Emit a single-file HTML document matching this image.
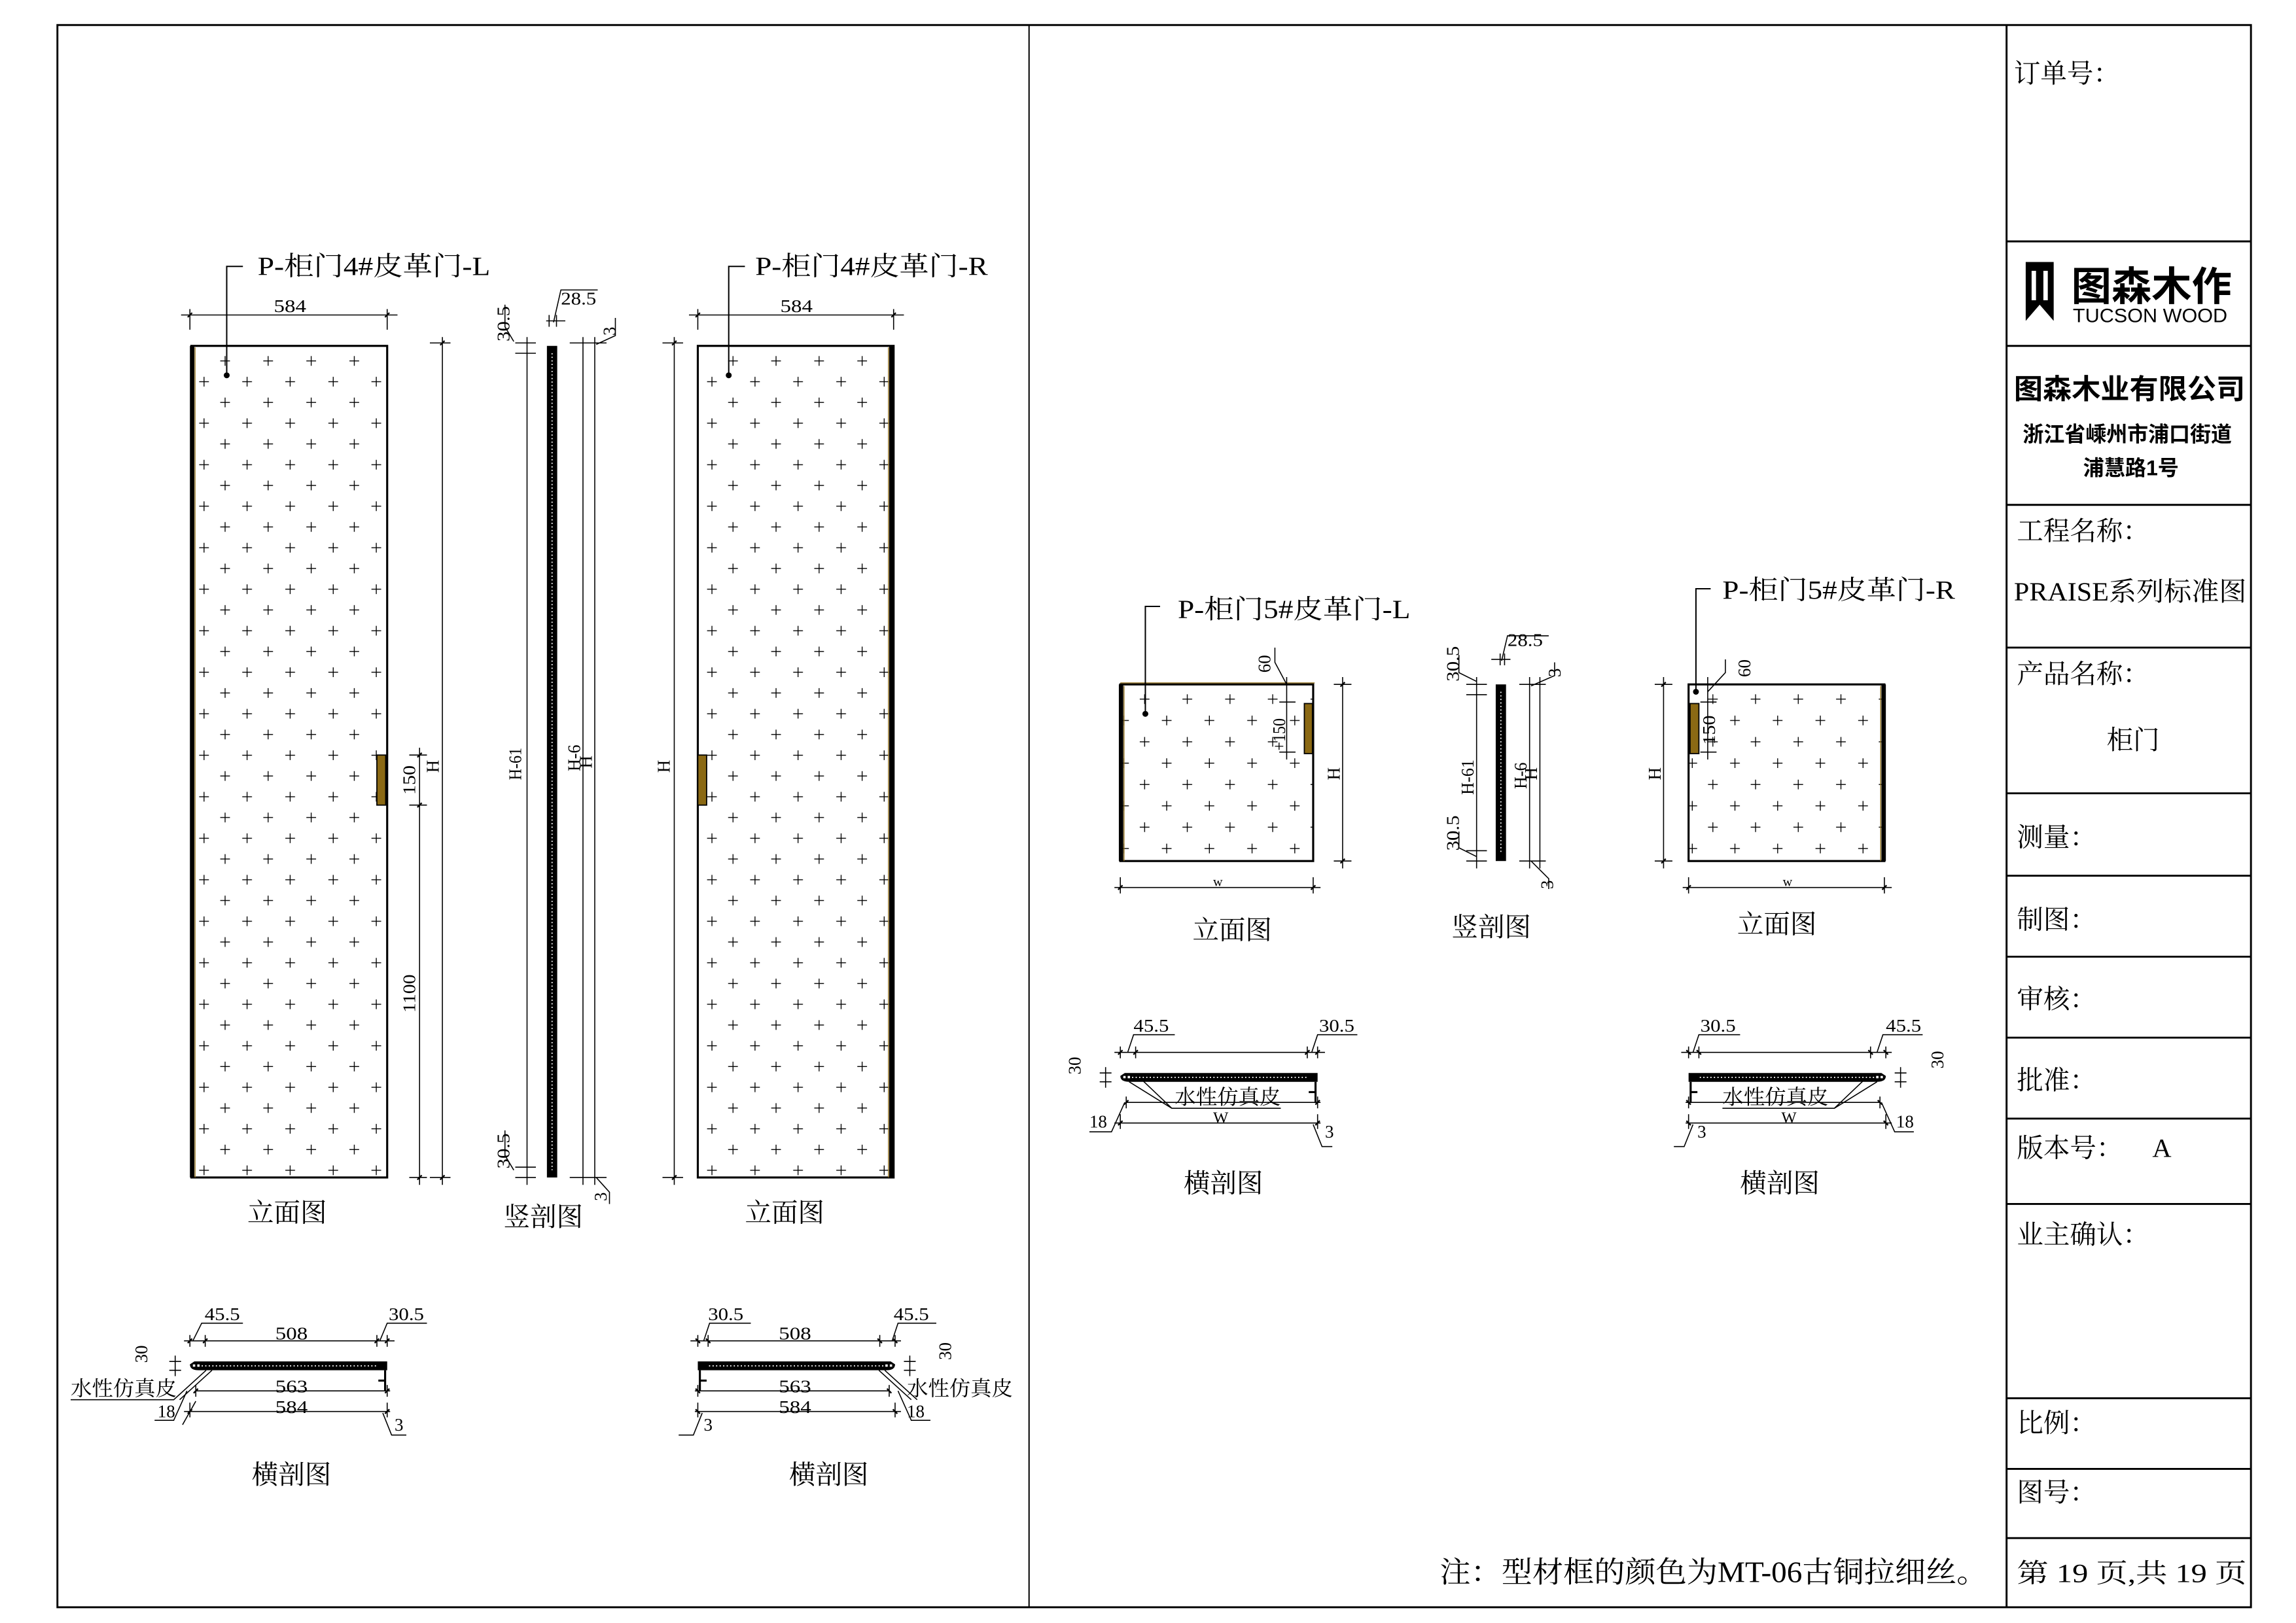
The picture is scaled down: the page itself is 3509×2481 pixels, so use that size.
<!DOCTYPE html>
<html><head><meta charset="utf-8"><style>
html,body{margin:0;padding:0;background:#fff;}
svg{display:block;}
.t{font-family:"Liberation Serif","Noto Serif CJK SC",serif;fill:#000;}
.s{font-family:"Liberation Sans","Noto Sans CJK SC",sans-serif;fill:#000;}
</style></head><body>
<svg width="3509" height="2481" viewBox="0 0 1559.6 1102.7" preserveAspectRatio="none" xmlns="http://www.w3.org/2000/svg">
<defs>
<pattern id="pA" patternUnits="userSpaceOnUse" x="131.6" y="238.2" width="29.25" height="28.2">
<path d="M18,7H24.6M21.3,3.7V10.3M3.7,21.1H10.3M7,17.8V24.4" stroke="#000" stroke-width="0.6" fill="none"/></pattern>
<pattern id="pB" patternUnits="userSpaceOnUse" x="476.6" y="238.2" width="29.25" height="28.2">
<path d="M18,7H24.6M21.3,3.7V10.3M3.7,21.1H10.3M7,17.8V24.4" stroke="#000" stroke-width="0.6" fill="none"/></pattern>
<pattern id="pC" patternUnits="userSpaceOnUse" x="756.5" y="468" width="29" height="29">
<path d="M17.7,7H24.3M21,3.7V10.3M3.7,21.5H10.3M7,18.2V24.8" stroke="#000" stroke-width="0.6" fill="none"/></pattern>
<pattern id="pD" patternUnits="userSpaceOnUse" x="1142.5" y="468" width="29" height="29">
<path d="M17.7,7H24.3M21,3.7V10.3M3.7,21.5H10.3M7,18.2V24.8" stroke="#000" stroke-width="0.6" fill="none"/></pattern>
<g id="xs">
<path d="M3,0H134V6H6Q0,6 0,2Z" fill="#000"/>
<line x1="8" y1="3" x2="128" y2="3" stroke="#fff" stroke-width="0.8" stroke-dasharray="0.8 1.6"/>
<rect x="2" y="2" width="1.6" height="1.6" fill="#fff"/><rect x="5" y="2" width="1.6" height="1.6" fill="#fff"/>
<path d="M132.6,6V20M128,13H133" stroke="#000" stroke-width="1.4" fill="none"/>
<path d="M-4,-14H139M0,-18V-10M10.4,-18V-10M127,-18V-10M134,-18V-10" stroke="#000" stroke-width="0.7" fill="none"/>
<path d="M-1.5,-12.5L1.5,-15.5M8.9,-12.5L11.9,-15.5M125.5,-12.5L128.5,-15.5M132.5,-12.5L135.5,-15.5" stroke="#000" stroke-width="1"/>
<path d="M4,20H136M4,16V24M134,16V24M-4,34H136M0,28V38M134,28V38" stroke="#000" stroke-width="0.7" fill="none"/>
<path d="M2.5,21.5L5.5,18.5M132.5,21.5L135.5,18.5M-1.5,35.5L1.5,32.5M132.5,35.5L135.5,32.5" stroke="#000" stroke-width="1"/>
<path d="M-14,0H-6M-14,6H-6M-10,-4V10" stroke="#000" stroke-width="0.7" fill="none"/>
</g>
</defs>
<rect x="0" y="0" width="1559.6" height="1102.7" fill="#fff"/>
<rect x="39" y="17" width="1490" height="1075" fill="none" stroke="#000" stroke-width="1.3"/>
<line x1="699" y1="17" x2="699" y2="1092" stroke="#000" stroke-width="0.9"/>
<line x1="1363" y1="17" x2="1363" y2="1092" stroke="#000" stroke-width="1.3"/>
<g stroke="#000" stroke-width="1.3">
<line x1="1363" y1="164" x2="1529" y2="164"/><line x1="1363" y1="235" x2="1529" y2="235"/>
<line x1="1363" y1="343" x2="1529" y2="343"/><line x1="1363" y1="440" x2="1529" y2="440"/>
<line x1="1363" y1="539" x2="1529" y2="539"/><line x1="1363" y1="595" x2="1529" y2="595"/>
<line x1="1363" y1="650" x2="1529" y2="650"/><line x1="1363" y1="705" x2="1529" y2="705"/>
<line x1="1363" y1="760" x2="1529" y2="760"/><line x1="1363" y1="818" x2="1529" y2="818"/>
<line x1="1363" y1="950" x2="1529" y2="950"/><line x1="1363" y1="998" x2="1529" y2="998"/>
<line x1="1363" y1="1045" x2="1529" y2="1045"/>
</g>
<g class="t" font-size="18">
<text x="1368" y="56">订单号：</text>
<text x="1370" y="367">工程名称：</text>
<text x="1368" y="408" textLength="158" lengthAdjust="spacingAndGlyphs">PRAISE系列标准图</text>
<text x="1370" y="464">产品名称：</text>
<text x="1431" y="509">柜门</text>
<text x="1370" y="575">测量：</text>
<text x="1370" y="631">制图：</text>
<text x="1370" y="685">审核：</text>
<text x="1370" y="740">批准：</text>
<text x="1370" y="786">版本号：</text><text x="1462" y="786">A</text>
<text x="1370" y="845">业主确认：</text>
<text x="1370" y="973">比例：</text>
<text x="1370" y="1020">图号：</text>
<text x="1370" y="1075" textLength="156" lengthAdjust="spacingAndGlyphs">第 19 页,共 19 页</text>
</g>
<path d="M1376,178H1395V218L1385.5,207L1376,218Z" fill="#000"/>
<rect x="1380" y="184" width="3" height="20" fill="#fff"/><rect x="1388" y="184" width="3" height="20" fill="#fff"/>
<text class="s" x="1407" y="204" font-size="27" font-weight="bold" textLength="109" lengthAdjust="spacingAndGlyphs">图森木作</text>
<text class="s" x="1408" y="219" font-size="13" textLength="105" lengthAdjust="spacingAndGlyphs">TUCSON WOOD</text>
<text class="s" x="1368" y="271" font-size="19" font-weight="bold" textLength="157" lengthAdjust="spacingAndGlyphs">图森木业有限公司</text>
<text class="s" x="1374" y="300" font-size="14.5" font-weight="bold" textLength="142" lengthAdjust="spacingAndGlyphs">浙江省嵊州市浦口街道</text>
<text class="s" x="1415" y="323" font-size="14.5" font-weight="bold" textLength="65" lengthAdjust="spacingAndGlyphs">浦慧路1号</text>
<text class="t" x="978" y="1075" font-size="20" textLength="372" lengthAdjust="spacingAndGlyphs">注：型材框的颜色为MT-06古铜拉细丝。</text>

<rect x="130" y="235" width="133" height="565" fill="url(#pA)"/>
<rect x="130" y="235" width="133" height="565" fill="none" stroke="#000" stroke-width="1.4"/>
<rect x="129" y="235" width="3" height="565" fill="#000"/><line x1="132.5" y1="236" x2="132.5" y2="800" stroke="#8b6914" stroke-width="0.6"/>
<rect x="256" y="513" width="6" height="34" fill="#8b6914" stroke="#000" stroke-width="0.8"/>
<circle cx="154" cy="255" r="2" fill="#000"/>
<path d="M154,255V181H165" stroke="#000" stroke-width="0.9" fill="none"/>
<text class="t" x="175" y="187" font-size="18" textLength="158" lengthAdjust="spacingAndGlyphs">P-柜门4#皮革门-L</text>
<g stroke="#000" stroke-width="0.7" fill="none">
<path d="M123,214H270M129,210V224M263,210V224"/>
<path d="M292,233H306M292,800H306M300.5,229V805"/>
<path d="M278,513H290M278,547H290M278,800H290M285,508V805"/>
</g>
<g stroke="#000" stroke-width="1"><path d="M127.5,215.5L130.5,212.5M261.5,215.5L264.5,212.5M299,234.5L302,231.5M299,801.5L302,798.5M283.5,514.5L286.5,511.5M283.5,548.5L286.5,545.5M283.5,801.5L286.5,798.5"/></g>
<text class="t" x="186" y="212" font-size="12" textLength="22" lengthAdjust="spacingAndGlyphs">584</text>
<text class="t" font-size="12" transform="translate(298,525) rotate(-90)">H</text>
<text class="t" font-size="12" transform="translate(282,540) rotate(-90)" textLength="20" lengthAdjust="spacingAndGlyphs">150</text>
<text class="t" font-size="12" transform="translate(282,688) rotate(-90)" textLength="26" lengthAdjust="spacingAndGlyphs">1100</text>
<text class="t" x="168" y="830" font-size="18">立面图</text>

<rect x="371.5" y="235" width="7" height="565" fill="#000"/>
<line x1="375" y1="240" x2="375" y2="795" stroke="#fff" stroke-width="0.8" stroke-dasharray="0.8 1.6"/>
<g stroke="#000" stroke-width="0.7" fill="none">
<path d="M350,233H364M350,240H364M350,793H364M350,800H364M358,229V805"/>
<path d="M349,232L343,222V207M349,795L343,785V768"/>
<path d="M387,233H412M387,800H412M396,229V805M404,229V805"/>
<path d="M371,218H384M378,214V222M373,214V222M376,219L381,197H406"/>
<path d="M405,234L418,228V216M405,800L414,810V818"/>
</g>
<text class="t" x="381" y="207" font-size="12" textLength="24" lengthAdjust="spacingAndGlyphs">28.5</text>
<text class="t" font-size="12" transform="translate(346,232) rotate(-90)" textLength="24" lengthAdjust="spacingAndGlyphs">30.5</text>
<text class="t" font-size="12" transform="translate(346,794) rotate(-90)" textLength="24" lengthAdjust="spacingAndGlyphs">30.5</text>
<text class="t" font-size="12" transform="translate(354,530) rotate(-90)" textLength="22" lengthAdjust="spacingAndGlyphs">H-61</text>
<text class="t" font-size="12" transform="translate(394,524) rotate(-90)" textLength="18" lengthAdjust="spacingAndGlyphs">H-6</text>
<text class="t" font-size="12" transform="translate(402,522) rotate(-90)">H</text>
<text class="t" font-size="12" transform="translate(418,228) rotate(-90)">3</text>
<text class="t" font-size="12" transform="translate(412,816) rotate(-90)">3</text>
<text class="t" x="342" y="833" font-size="18">竖剖图</text>

<rect x="474" y="235" width="133" height="565" fill="url(#pB)"/>
<rect x="474" y="235" width="133" height="565" fill="none" stroke="#000" stroke-width="1.4"/>
<rect x="604" y="235" width="3" height="565" fill="#000"/><line x1="603.5" y1="236" x2="603.5" y2="800" stroke="#8b6914" stroke-width="0.6"/>
<rect x="474" y="513" width="6" height="34" fill="#8b6914" stroke="#000" stroke-width="0.8"/>
<circle cx="495" cy="255" r="2" fill="#000"/>
<path d="M495,255V181H506" stroke="#000" stroke-width="0.9" fill="none"/>
<text class="t" x="513" y="187" font-size="18" textLength="158" lengthAdjust="spacingAndGlyphs">P-柜门4#皮革门-R</text>
<g stroke="#000" stroke-width="0.7" fill="none">
<path d="M468,214H614M474,210V224M607,210V224"/>
<path d="M450,233H464M450,800H464M458,229V805"/>
</g>
<g stroke="#000" stroke-width="1"><path d="M472.5,215.5L475.5,212.5M605.5,215.5L608.5,212.5M456.5,234.5L459.5,231.5M456.5,801.5L459.5,798.5"/></g>
<text class="t" x="530" y="212" font-size="12" textLength="22" lengthAdjust="spacingAndGlyphs">584</text>
<text class="t" font-size="12" transform="translate(455,525) rotate(-90)">H</text>
<text class="t" x="506" y="830" font-size="18">立面图</text>

<use href="#xs" transform="translate(129,925)"/>
<use href="#xs" transform="translate(608,925) scale(-1,1)"/>
<g stroke="#000" stroke-width="0.7" fill="none">
<path d="M140,931L118,951H48M144,931L122,951"/><path d="M597,931L619,951"/><path d="M601,931L623,951"/>
<path d="M127,945L118,965H105M133,952L124,968"/><path d="M260,960L266,975H276"/><path d="M610,945L619,965H632"/><path d="M477,960L471,975H461"/>
<path d="M131,911L137,899H165M258,911L263,899H290"/><path d="M478,911L482,899H510M606,911L610,899H636"/>
</g>
<text class="t" x="139" y="897" font-size="12" textLength="24" lengthAdjust="spacingAndGlyphs">45.5</text>
<text class="t" x="264" y="897" font-size="12" textLength="24" lengthAdjust="spacingAndGlyphs">30.5</text>
<text class="t" x="187" y="910" font-size="12" textLength="22" lengthAdjust="spacingAndGlyphs">508</text>
<text class="t" x="187" y="946" font-size="12" textLength="22" lengthAdjust="spacingAndGlyphs">563</text>
<text class="t" x="187" y="960" font-size="12" textLength="22" lengthAdjust="spacingAndGlyphs">584</text>
<text class="t" font-size="12" transform="translate(100,926) rotate(-90)">30</text>
<text class="t" x="48" y="948" font-size="14" textLength="72" lengthAdjust="spacingAndGlyphs">水性仿真皮</text>
<text class="t" x="107" y="963" font-size="12">18</text>
<text class="t" x="268" y="972" font-size="12">3</text>
<text class="t" x="171" y="1008" font-size="18">横剖图</text>

<text class="t" x="481" y="897" font-size="12" textLength="24" lengthAdjust="spacingAndGlyphs">30.5</text>
<text class="t" x="607" y="897" font-size="12" textLength="24" lengthAdjust="spacingAndGlyphs">45.5</text>
<text class="t" x="529" y="910" font-size="12" textLength="22" lengthAdjust="spacingAndGlyphs">508</text>
<text class="t" x="529" y="946" font-size="12" textLength="22" lengthAdjust="spacingAndGlyphs">563</text>
<text class="t" x="529" y="960" font-size="12" textLength="22" lengthAdjust="spacingAndGlyphs">584</text>
<text class="t" font-size="12" transform="translate(646,924) rotate(-90)">30</text>
<text class="t" x="616" y="948" font-size="14" textLength="72" lengthAdjust="spacingAndGlyphs">水性仿真皮</text>
<text class="t" x="616" y="963" font-size="12">18</text>
<text class="t" x="478" y="972" font-size="12">3</text>
<text class="t" x="536" y="1008" font-size="18">横剖图</text>

<rect x="761" y="465" width="131" height="120" fill="url(#pC)"/>
<rect x="761" y="465" width="131" height="120" fill="none" stroke="#000" stroke-width="1.4"/>
<rect x="760" y="465" width="3" height="120" fill="#000"/><line x1="763.5" y1="466" x2="763.5" y2="585" stroke="#8b6914" stroke-width="0.6"/>
<line x1="761" y1="464" x2="893" y2="464" stroke="#8b6914" stroke-width="0.6"/>
<rect x="886" y="478" width="5.5" height="34" fill="#8b6914" stroke="#000" stroke-width="0.8"/>
<circle cx="778" cy="485" r="2" fill="#000"/>
<path d="M778,485V412H788" stroke="#000" stroke-width="0.9" fill="none"/>
<text class="t" x="800" y="420" font-size="18" textLength="158" lengthAdjust="spacingAndGlyphs">P-柜门5#皮革门-L</text>
<g stroke="#000" stroke-width="0.7" fill="none">
<path d="M757,603H897M761,596V607M892,596V607"/>
<path d="M906,465H918M906,585H918M912,460V590"/>
<path d="M869,465H878M869,477H880M869,511H880M874,460V516M874,465L866,450V440"/>
</g>
<g stroke="#000" stroke-width="1"><path d="M759.5,604.5L762.5,601.5M890.5,604.5L893.5,601.5M910.5,466.5L913.5,463.5M910.5,586.5L913.5,583.5"/></g>
<text class="t" x="824" y="602" font-size="9">w</text>
<text class="t" font-size="12" transform="translate(910,530) rotate(-90)">H</text>
<text class="t" font-size="12" transform="translate(863,457) rotate(-90)">60</text>
<text class="t" font-size="12" transform="translate(873,510) rotate(-90)" textLength="22" lengthAdjust="spacingAndGlyphs">+150</text>
<text class="t" x="810" y="638" font-size="18">立面图</text>

<rect x="1016" y="465" width="7" height="120" fill="#000"/>
<line x1="1019.5" y1="470" x2="1019.5" y2="580" stroke="#fff" stroke-width="0.8" stroke-dasharray="0.8 1.6"/>
<g stroke="#000" stroke-width="0.7" fill="none">
<path d="M996,465H1010M996,472H1010M996,578H1010M996,585H1010M1003,460V590"/>
<path d="M1003,463L991,457V445M1003,582L991,576V565"/>
<path d="M1032,465H1050M1032,585H1050M1039,460V590M1046,460V590"/>
<path d="M1013,448H1026M1019,444V452M1022,444V452M1020,449L1024,432H1052"/>
<path d="M1040,466L1056,459V450M1040,585L1052,597V604"/>
</g>
<text class="t" x="1024" y="439" font-size="12" textLength="24" lengthAdjust="spacingAndGlyphs">28.5</text>
<text class="t" font-size="12" transform="translate(991,463) rotate(-90)" textLength="24" lengthAdjust="spacingAndGlyphs">30.5</text>
<text class="t" font-size="12" transform="translate(991,578) rotate(-90)" textLength="24" lengthAdjust="spacingAndGlyphs">30.5</text>
<text class="t" font-size="12" transform="translate(1001,540) rotate(-90)" textLength="24" lengthAdjust="spacingAndGlyphs">H-61</text>
<text class="t" font-size="12" transform="translate(1037,536) rotate(-90)" textLength="18" lengthAdjust="spacingAndGlyphs">H-6</text>
<text class="t" font-size="12" transform="translate(1044,530) rotate(-90)">H</text>
<text class="t" font-size="12" transform="translate(1060,460) rotate(-90)">3</text>
<text class="t" font-size="12" transform="translate(1055,604) rotate(-90)">3</text>
<text class="t" x="986" y="636" font-size="18">竖剖图</text>

<rect x="1147" y="465" width="133" height="120" fill="url(#pD)"/>
<rect x="1147" y="465" width="133" height="120" fill="none" stroke="#000" stroke-width="1.4"/>
<rect x="1278" y="465" width="3" height="120" fill="#000"/><line x1="1277.5" y1="466" x2="1277.5" y2="585" stroke="#8b6914" stroke-width="0.6"/>
<rect x="1148" y="478" width="6" height="34" fill="#8b6914" stroke="#000" stroke-width="0.8"/>
<circle cx="1152" cy="470" r="2" fill="#000"/>
<path d="M1152,470V400H1162" stroke="#000" stroke-width="0.9" fill="none"/>
<text class="t" x="1170" y="407" font-size="18" textLength="158" lengthAdjust="spacingAndGlyphs">P-柜门5#皮革门-R</text>
<g stroke="#000" stroke-width="0.7" fill="none">
<path d="M1143,603H1285M1147,596V607M1280,596V607"/>
<path d="M1124,465H1136M1124,585H1136M1130,460V590"/>
<path d="M1155,465H1166M1155,477H1166M1155,511H1166M1160,460V516M1160,470L1172,457V448"/>
</g>
<g stroke="#000" stroke-width="1"><path d="M1145.5,604.5L1148.5,601.5M1278.5,604.5L1281.5,601.5M1128.5,466.5L1131.5,463.5M1128.5,586.5L1131.5,583.5"/></g>
<text class="t" x="1211" y="602" font-size="9">w</text>
<text class="t" font-size="12" transform="translate(1128,530) rotate(-90)">H</text>
<text class="t" font-size="12" transform="translate(1189,460) rotate(-90)">60</text>
<text class="t" font-size="12" transform="translate(1165,506) rotate(-90)" textLength="20" lengthAdjust="spacingAndGlyphs">150</text>
<text class="t" x="1180" y="634" font-size="18">立面图</text>

<use href="#xs" transform="translate(761,729)"/>
<use href="#xs" transform="translate(1281,729) scale(-1,1)"/>
<g stroke="#000" stroke-width="0.7" fill="none">
<path d="M767,735L796,753H870M775,733L796,753"/><path d="M1275,735L1246,753H1170M1267,733L1246,753"/>
<path d="M764,749L755,769H740M1278,749L1287,769H1300"/><path d="M892,764L898,779H905M1150,764L1144,779H1137"/>
<path d="M766,715L770,703H798M891,715L895,703H922"/><path d="M1150,715L1154,703H1182M1275,715L1279,703H1306"/>
</g>
<text class="t" x="770" y="701" font-size="12" textLength="24" lengthAdjust="spacingAndGlyphs">45.5</text>
<text class="t" x="896" y="701" font-size="12" textLength="24" lengthAdjust="spacingAndGlyphs">30.5</text>
<text class="t" font-size="12" transform="translate(734,730) rotate(-90)">30</text>
<text class="t" x="798" y="750" font-size="14" textLength="72" lengthAdjust="spacingAndGlyphs">水性仿真皮</text>
<text class="t" x="824" y="763" font-size="11">W</text>
<text class="t" x="740" y="766" font-size="12">18</text>
<text class="t" x="900" y="773" font-size="12">3</text>
<text class="t" x="804" y="810" font-size="18">横剖图</text>

<text class="t" x="1155" y="701" font-size="12" textLength="24" lengthAdjust="spacingAndGlyphs">30.5</text>
<text class="t" x="1281" y="701" font-size="12" textLength="24" lengthAdjust="spacingAndGlyphs">45.5</text>
<text class="t" font-size="12" transform="translate(1320,726) rotate(-90)">30</text>
<text class="t" x="1170" y="750" font-size="14" textLength="72" lengthAdjust="spacingAndGlyphs">水性仿真皮</text>
<text class="t" x="1210" y="763" font-size="11">W</text>
<text class="t" x="1288" y="766" font-size="12">18</text>
<text class="t" x="1153" y="773" font-size="12">3</text>
<text class="t" x="1182" y="810" font-size="18">横剖图</text>
</svg>
</body></html>
